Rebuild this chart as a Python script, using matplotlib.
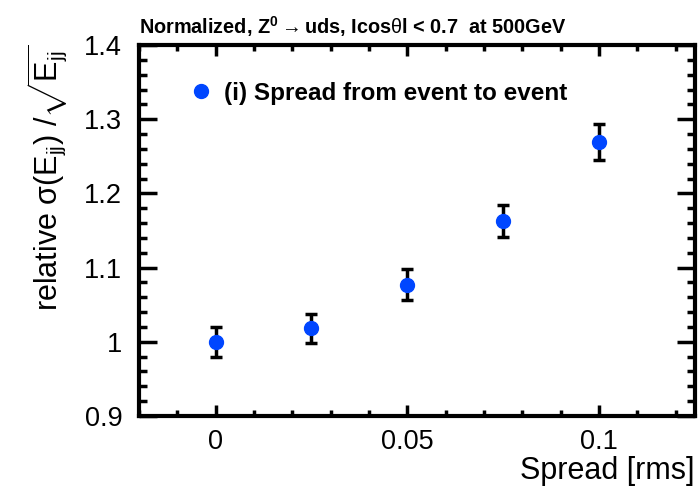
import matplotlib
matplotlib.use("Agg")
import matplotlib.pyplot as plt
from matplotlib.lines import Line2D
from matplotlib.ticker import MultipleLocator

plt.rcParams['font.family'] = ['Liberation Sans', 'DejaVu Sans']
plt.rcParams['mathtext.fontset'] = 'custom'
plt.rcParams['mathtext.rm'] = 'Liberation Sans'
plt.rcParams['mathtext.it'] = 'Liberation Sans'
plt.rcParams['mathtext.bf'] = 'Liberation Sans:bold'

# Data.
spread = [0.0, 0.025, 0.05, 0.075, 0.1]
rel_sigma = [1.000, 1.018, 1.077, 1.163, 1.269]
rel_sigma_err = [0.020, 0.020, 0.021, 0.022, 0.024]

fig = plt.figure(figsize=(6.98, 4.88), dpi=100)
ax = fig.add_axes([0.199, 0.1475, 0.7967, 0.7603])

blue = "#0046ff"
ax.errorbar(spread, rel_sigma, yerr=rel_sigma_err, fmt="o", color=blue,
            markersize=10, ecolor="black", elinewidth=2.5, capsize=4,
            capthick=2.5, zorder=3)

ax.set_xlim(-0.02, 0.125)
ax.set_ylim(0.9, 1.4)
ax.xaxis.set_minor_locator(MultipleLocator(0.01))
ax.yaxis.set_minor_locator(MultipleLocator(0.02))
ax.set_xticks([0, 0.05, 0.1])
ax.set_xticklabels(["0", "0.05", "0.1"])
ax.set_yticks([0.9, 1.0, 1.1, 1.2, 1.3, 1.4])
ax.set_yticklabels(["0.9", "1", "1.1", "1.2", "1.3", "1.4"])

ax.tick_params(which="both", direction="in", top=True, right=True, width=2.5,
               labelsize=19.5)
ax.tick_params(axis="y", which="major", length=13, pad=12)
ax.tick_params(axis="y", which="minor", length=6)
ax.tick_params(axis="x", which="major", length=8, pad=9)
ax.tick_params(axis="x", which="minor", length=4)
for s in ax.spines.values():
    s.set_linewidth(3)

ax.set_xlabel("Spread [rms]", fontsize=22, loc="right", labelpad=1)
ax.set_ylabel(r"relative $\sigma(E_{jj})$ /$\sqrt{E_{jj}}$", fontsize=22,
              loc="top", labelpad=10)

ax.set_title(r"Normalized, Z$^{\mathbf{0}}$$\rightarrow$uds, Icos$\theta$l < 0.7  at 500GeV",
             fontsize=14.3, fontweight="bold", loc="left", pad=8)

handle = Line2D([], [], marker="o", linestyle="none", color=blue, markersize=10)
ax.legend([handle], ["(i) Spread from event to event"], loc="upper left",
          bbox_to_anchor=(0.04, 0.96), frameon=False, handletextpad=0.2,
          handlelength=1.5, prop={"weight": "bold", "size": 17.5})

fig.savefig("out.png", dpi=100)
